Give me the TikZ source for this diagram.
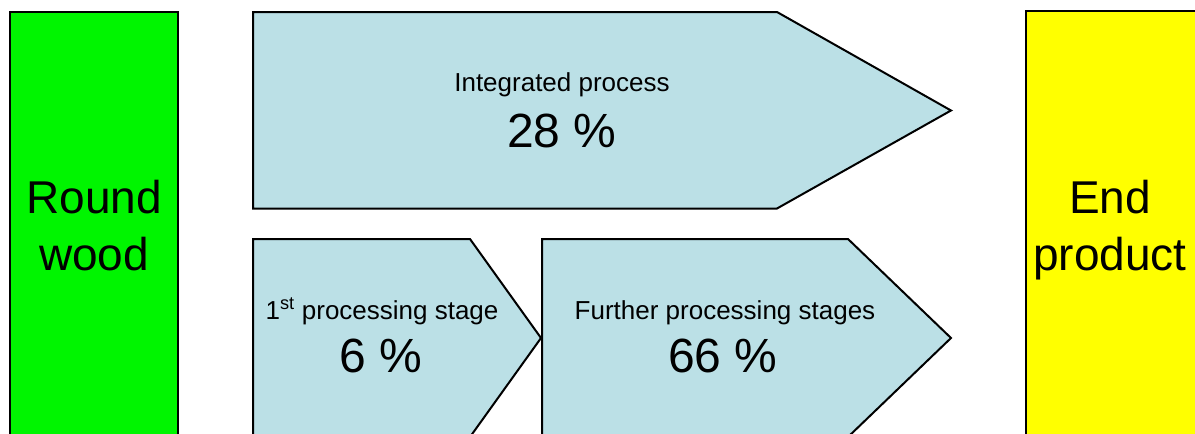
\documentclass[tikz,border=0pt]{standalone}
\usepackage{fontspec}
\setmainfont{Liberation Sans}
\definecolor{woodgreen}{RGB}{0,245,0}
\definecolor{prodyellow}{RGB}{255,255,0}
\definecolor{stageblue}{RGB}{187,224,230}
\begin{document}
\begin{tikzpicture}[x=1pt,y=-1pt,
  outline/.style={draw=black,line width=2pt,line join=miter},
  bigword/.style={font=\fontsize{46}{55}\selectfont,anchor=base,inner sep=0pt},
  stagename/.style={font=\fontsize{26}{30}\selectfont,anchor=base,inner sep=0pt},
  share/.style={font=\fontsize{48}{56}\selectfont,anchor=base,inner sep=0pt}]
\useasboundingbox (0,0) rectangle (1195,434);
\clip (0,0) rectangle (1195,434);
\fill[white] (0,0) rectangle (1195,434);

% raw material and product columns
\draw[outline,fill=woodgreen] (10,12) rectangle (178,450);
\draw[outline,fill=prodyellow] (1026,11) rectangle (1210,450);

% process arrows
\draw[outline,fill=stageblue] (253,12) -- (777,12) -- (951,110.5) -- (777,208.5) -- (253,208.5) -- cycle;
\draw[outline,fill=stageblue] (253,239) -- (470,239) -- (541,338) -- (470,437) -- (253,437) -- cycle;
\draw[outline,fill=stageblue] (542,239) -- (848,239) -- (951,338) -- (848,437) -- (542,437) -- cycle;

% labels
\node[bigword] (rw1) at (94,213) {Round};
\node[bigword] (rw2) at (94,270) {wood};
\node[bigword] (ep1) at (1110,213) {End};
\node[bigword] (ep2) at (1110,270) {product};

\node[stagename] (intname) at (562,91) {Integrated process};
\node[share] (intshare) at (562,147) {28 \%};
\node[stagename] (firstname) at (382,319) {1\textsuperscript{st} processing stage};
\node[share] (firstshare) at (381,372) {6 \%};
\node[stagename] (furthername) at (725,319) {Further processing stages};
\node[share] (furthershare) at (723,372) {66 \%};
\end{tikzpicture}
\end{document}
